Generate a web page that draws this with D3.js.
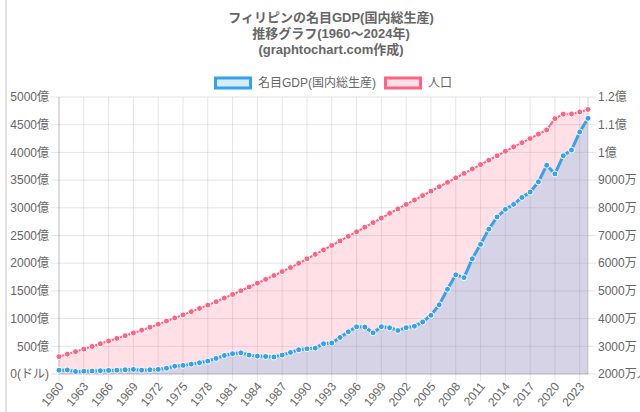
<!DOCTYPE html>
<html>
<head>
<meta charset="utf-8">
<script src="https://cdn.jsdelivr.net/npm/d3@7"></script>
<style>
  html, body { margin: 0; padding: 0; background: #fff; }
  svg { display: block; }
  text { font-family: "Liberation Sans", Arial, "Noto Sans CJK JP", sans-serif; fill: #666; }
</style>
</head>
<body>
<svg id="chart" width="640" height="412"></svg>
<script>
const years = [1960,1961,1962,1963,1964,1965,1966,1967,1968,1969,
  1970,1971,1972,1973,1974,1975,1976,1977,1978,1979,
  1980,1981,1982,1983,1984,1985,1986,1987,1988,1989,
  1990,1991,1992,1993,1994,1995,1996,1997,1998,1999,
  2000,2001,2002,2003,2004,2005,2006,2007,2008,2009,
  2010,2011,2012,2013,2014,2015,2016,2017,2018,2019,
  2020,2021,2022,2023,2024];

// Nominal GDP, 億 US$
const gdp = [68,73,45,50,54,59,65,69,76,83,
  69,76,83,104,141,155,178,203,234,281,
  334,367,382,342,323,316,307,342,390,438,
  456,467,545,559,659,762,852,847,743,854,
  834,785,837,863,940,1060,1250,1530,1790,1740,
  2080,2340,2615,2835,2972,3062,3186,3284,3468,3768,
  3612,3940,4043,4368,4616];

// Population, millions
const population = [26.27,27.16,28.07,29.00,29.95,30.92,31.89,32.86,33.83,34.81,
  35.80,36.88,37.98,39.10,40.22,41.35,42.50,43.67,44.87,46.10,
  47.40,48.72,50.05,51.40,52.77,54.15,55.55,56.96,58.40,59.95,
  61.60,63.20,64.80,66.40,68.05,69.70,71.35,73.00,74.65,76.30,
  78.00,79.60,81.20,82.80,84.40,86.00,87.60,89.20,90.80,92.40,
  94.00,95.60,97.20,98.80,100.40,102.00,103.50,105.00,106.60,108.10,
  112.20,113.80,113.90,114.60,115.50];

const leftTicks = [0,500,1000,1500,2000,2500,3000,3500,4000,4500,5000];
const leftTickLabels = ["0(ドル)","500億","1000億","1500億","2000億","2500億","3000億","3500億","4000億","4500億","5000億"];
const rightTicks = [20,30,40,50,60,70,80,90,100,110,120];
const rightTickLabels = ["2000万人","3000万","4000万","5000万","6000万","7000万","8000万","9000万","1億","1.1億","1.2億"];
const xTickYears = [1960,1963,1966,1969,1972,1975,1978,1981,1984,1987,1990,1993,1996,1999,2002,2005,2008,2011,2014,2017,2020,2023];

const titleLines = ["フィリピンの名目GDP(国内総生産)", "推移グラフ(1960～2024年)", "(graphtochart.com作成)"];
const seriesNames = ["名目GDP(国内総生産)", "人口"];

const blue = "#36A2EB", pink = "#FF6384";
const blueFill = "rgba(54,162,235,0.2)", pinkFill = "rgba(255,99,132,0.2)";

const L = 59, R = 588, T = 97, B = 374;
const svg = d3.select("#chart");

// page border line
svg.append("line").attr("x1", 6).attr("x2", 6).attr("y1", 0).attr("y2", 412)
  .attr("stroke", "#e3e3e3").attr("stroke-width", 2);

const x = d3.scalePoint().domain(years).range([L, R]);
const yL = d3.scaleLinear().domain([0, 5000]).range([B, T]);
const yR = d3.scaleLinear().domain([20, 120]).range([B, T]);

const gridColor = "rgba(0,0,0,0.1)";

// horizontal grid
const g = svg.append("g");
leftTicks.forEach(v => {
  g.append("line").attr("x1", L - 8).attr("x2", R).attr("y1", yL(v)).attr("y2", yL(v))
    .attr("stroke", gridColor).attr("stroke-width", 1);
});
rightTicks.forEach(v => {
  g.append("line").attr("x1", R).attr("x2", R + 8).attr("y1", yR(v)).attr("y2", yR(v))
    .attr("stroke", gridColor).attr("stroke-width", 1);
});
// vertical grid
xTickYears.forEach(yr => {
  g.append("line").attr("x1", x(yr)).attr("x2", x(yr)).attr("y1", T).attr("y2", B + 7)
    .attr("stroke", gridColor).attr("stroke-width", 1);
});
// axis borders
g.append("line").attr("x1", L).attr("x2", L).attr("y1", T).attr("y2", B).attr("stroke", "rgba(0,0,0,0.18)");
g.append("line").attr("x1", R).attr("x2", R).attr("y1", T).attr("y2", B).attr("stroke", "rgba(0,0,0,0.18)");
g.append("line").attr("x1", L).attr("x2", R).attr("y1", B).attr("y2", B).attr("stroke", "rgba(0,0,0,0.18)");

// series
function drawSeries(vals, ys, color, fill, lw) {
  const area = d3.area().x((d, i) => x(years[i])).y0(B).y1(d => ys(d));
  const line = d3.line().x((d, i) => x(years[i])).y(d => ys(d));
  svg.append("path").datum(vals).attr("d", area).attr("fill", fill);
  svg.append("path").datum(vals).attr("d", line).attr("fill", "none")
    .attr("stroke", color).attr("stroke-width", lw);
  svg.append("g").selectAll("circle").data(vals).join("circle")
    .attr("cx", (d, i) => x(years[i])).attr("cy", d => ys(d)).attr("r", 3)
    .attr("fill", color).attr("stroke", "#fff").attr("stroke-width", 1);
}
drawSeries(population, yR, pink, pinkFill, 2);
drawSeries(gdp, yL, blue, blueFill, 3);

// left tick labels
leftTicks.forEach((v, i) => {
  svg.append("text").attr("x", L - 10).attr("y", yL(v)).attr("dy", "0.35em")
    .attr("text-anchor", "end").attr("font-size", 12).text(leftTickLabels[i]);
});
// right tick labels
rightTicks.forEach((v, i) => {
  svg.append("text").attr("x", R + 10).attr("y", yR(v)).attr("dy", "0.35em")
    .attr("text-anchor", "start").attr("font-size", 12).text(rightTickLabels[i]);
});
// x tick labels
xTickYears.forEach(yr => {
  svg.append("text")
    .attr("transform", `translate(${x(yr) + 2},${B + 10}) rotate(-50)`)
    .attr("text-anchor", "end").attr("dy", "0.35em").attr("font-size", 12).text(yr);
});

// title
const cx = 331;
titleLines.forEach((t, i) => {
  svg.append("text").attr("x", cx).attr("y", 17 + i * 16).attr("dy", "0.35em")
    .attr("text-anchor", "middle").attr("font-size", 13).attr("font-weight", "bold").text(t);
});

// legend
const legend = svg.append("g");
const items = [
  {name: seriesNames[0], color: blue, fill: "rgba(54,162,235,0.2)"},
  {name: seriesNames[1], color: pink, fill: "rgba(255,99,132,0.2)"}
];
const boxW = 35, boxH = 10, gap = 6, itemGap = 8;
const texts = items.map(it => {
  const t = legend.append("text").attr("font-size", 12).attr("dy", "0.35em").attr("y", 83).text(it.name);
  return t;
});
const widths = texts.map(t => t.node().getComputedTextLength());
let total = 0;
items.forEach((it, i) => { total += boxW + 3 + gap + widths[i]; if (i < items.length - 1) total += itemGap; });
let lx = cx - total / 2 + 2;
items.forEach((it, i) => {
  legend.append("rect").attr("x", lx + 1.5).attr("y", 78).attr("width", boxW).attr("height", boxH)
    .attr("fill", it.fill).attr("stroke", it.color).attr("stroke-width", 3);
  texts[i].attr("x", lx + boxW + 3 + gap);
  lx += boxW + 3 + gap + widths[i] + itemGap;
});
</script>
</body>
</html>
